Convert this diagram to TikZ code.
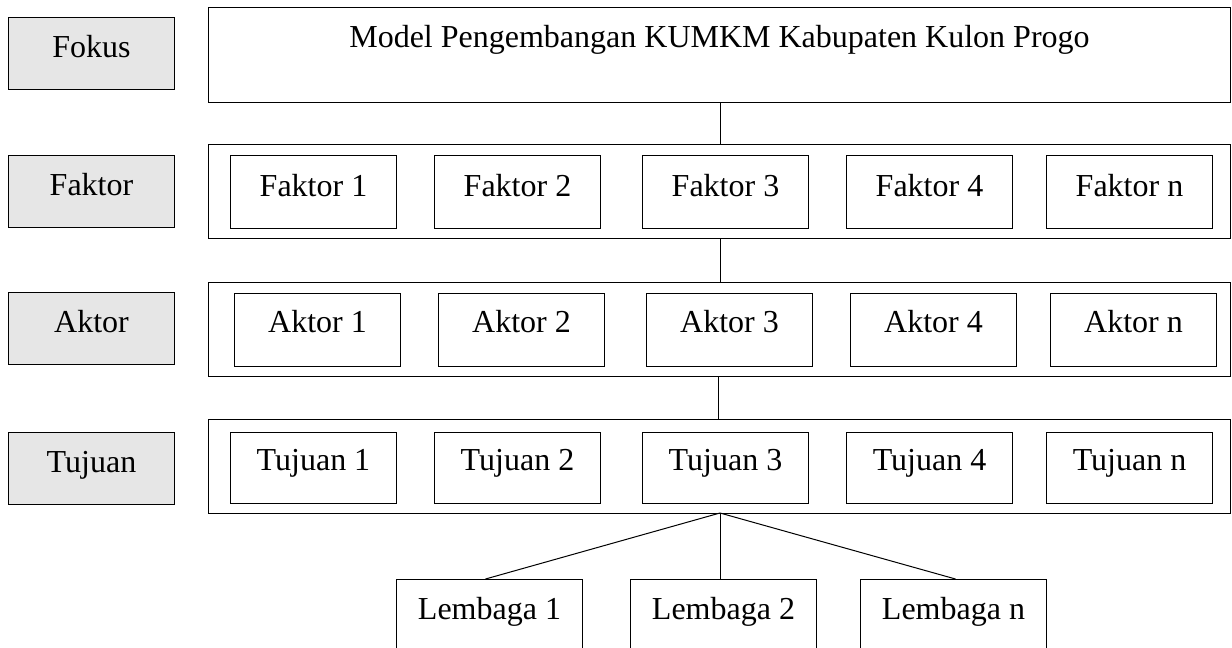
\documentclass[tikz,border=0pt]{standalone}
\usepackage{fontspec}
\setmainfont{Liberation Serif}
\begin{document}
\begin{tikzpicture}[x=1pt,y=-1pt,
  box/.style={draw=black, line width=1pt, rectangle, inner sep=0pt, anchor=north west},
  lvl/.style={box, fill=levelgray, minimum width=166pt, minimum height=72pt},
  row/.style={box, minimum width=1022pt, minimum height=94pt},
  item/.style={box, minimum width=166pt, minimum height=73pt},
  txt/.style={anchor=base, inner sep=0pt, font=\fontsize{32}{36}\selectfont},
  link/.style={draw=black, line width=1pt}]
\definecolor{levelgray}{HTML}{E6E6E6}
\useasboundingbox (0,0) rectangle (1232,648);
\clip (0,0) rectangle (1232,648);

% level labels on the left
\node[lvl] (lfokus) at (8,17) {};
\node[txt] at ([yshift=-40pt]lfokus.north) {Fokus};
\node[lvl] (lfaktor) at (8,155) {};
\node[txt] at ([yshift=-40pt]lfaktor.north) {Faktor};
\node[lvl] (laktor) at (8,292) {};
\node[txt] at ([yshift=-40pt]laktor.north) {Aktor};
\node[lvl] (ltujuan) at (8,432) {};
\node[txt] at ([yshift=-40pt]ltujuan.north) {Tujuan};

% focus box
\node[box, minimum width=1022pt, minimum height=95pt] (fokus) at (208,7) {};
\node[txt] at ([yshift=-40pt]fokus.north) {Model Pengembangan KUMKM Kabupaten Kulon Progo};

% row frames
\node[row] (rfaktor) at (208,144) {};
\node[row] (raktor) at (208,282) {};
\node[row] (rtujuan) at (208,419) {};

% faktor items
\foreach \i/\x/\t in {1/230/Faktor 1, 2/434/Faktor 2, 3/642/Faktor 3, 4/846/Faktor 4, 5/1046/Faktor n}{
  \node[item] (fa\i) at (\x,155) {};
  \node[txt] at ([yshift=-41pt]fa\i.north) {\t};
}
% aktor items
\foreach \i/\x/\t in {1/234/Aktor 1, 2/438/Aktor 2, 3/646/Aktor 3, 4/850/Aktor 4, 5/1050/Aktor n}{
  \node[item] (ak\i) at (\x,293) {};
  \node[txt] at ([yshift=-39pt]ak\i.north) {\t};
}
% tujuan items
\foreach \i/\x/\t in {1/230/Tujuan 1, 2/434/Tujuan 2, 3/642/Tujuan 3, 4/846/Tujuan 4, 5/1046/Tujuan n}{
  \node[item, minimum height=71pt] (tu\i) at (\x,432) {};
  \node[txt] at ([yshift=-38pt]tu\i.north) {\t};
}
% lembaga items (run past the lower edge)
\foreach \i/\x/\t in {1/396/Lembaga 1, 2/630/Lembaga 2, 3/860/Lembaga n}{
  \node[box, minimum width=186pt, minimum height=100pt] (le\i) at (\x,579) {};
  \node[txt] at ([yshift=-40pt]le\i.north) {\t};
}

% vertical links between levels
\coordinate (c1) at (720,102);
\coordinate (c2) at (720,238);
\coordinate (c3) at (718,376);
\coordinate (hub) at (720,513);
\draw[link] (c1) -- (c1 |- rfaktor.north);
\draw[link] (c2) -- (c2 |- raktor.north);
\draw[link] (c3) -- (c3 |- rtujuan.north);

% branches to the institutions
\draw[link] (hub) -- ([xshift=-4pt]le1.north);
\draw[link] (hub) -- (hub |- le2.north);
\draw[link] (hub) -- ([xshift=2pt]le3.north);
\end{tikzpicture}
\end{document}
